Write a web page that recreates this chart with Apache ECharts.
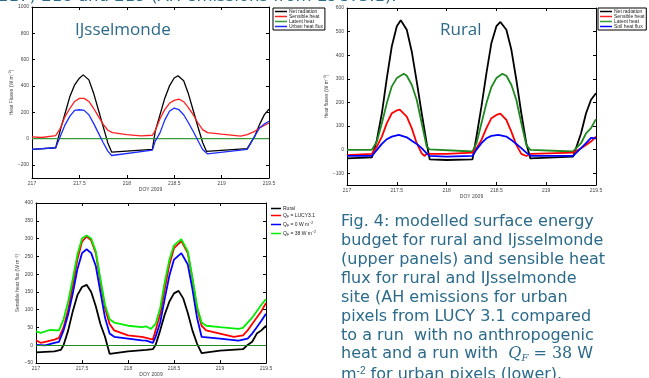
<!DOCTYPE html>
<html>
<head>
<meta charset="utf-8">
<script src="https://cdn.jsdelivr.net/npm/echarts@6/dist/echarts.min.js"></script>
<style>
html,body{margin:0;padding:0;background:#fff;overflow:hidden;}
#main{width:649px;height:378px;}
</style>
</head>
<body>
<div id="main"></div>
<script>
// x ticks (DOY 2009)
var doyTicks=[217,217.5,218,218.5,219,219.5];
var ijTicks=[-200,0,200,400,600,800,1000];
var ruTicks=[-100,0,100,200,300,400,500,600];
var shTicks=[-50,0,50,100,150,200,250,300,350,400];

// IJsselmonde energy budget [doy, W m-2]
var ijNet=[[217,-83],[217.25,-70],[217.3,68],[217.35,194],[217.4,320],[217.45,408],[217.5,459],[217.54,484],[217.6,446],[217.65,345],[217.7,219],[217.75,93],[217.8,-33],[217.84,-103],
	[218.27,-83],[218.3,55],[218.35,180],[218.4,305],[218.45,400],[218.5,460],[218.54,477],[218.6,440],[218.65,340],[218.7,215],[218.75,90],[218.8,-30],[218.84,-97],
	[219.27,-76],[219.35,18],[219.4,106],[219.45,180],[219.5,224]];
var ijSens=[[217,12],[217.1,8],[217.25,22],[217.3,80],[217.35,169],[217.4,230],[217.45,282],[217.5,305],[217.55,305],[217.6,282],[217.65,230],[217.7,169],[217.75,110],[217.8,63],[217.85,45],
	[218,30],[218.15,20],[218.27,25],[218.3,60],[218.35,150],[218.4,220],[218.45,268],[218.5,290],[218.55,300],[218.6,280],[218.65,235],[218.7,181],[218.75,120],[218.8,68],[218.85,45],
	[219,33],[219.2,18],[219.27,30],[219.35,55],[219.4,80],[219.5,118]];
var ijLat=[[217,0],[219.5,0]];
var ijUrban=[[217,-83],[217.25,-70],[217.3,20],[217.35,106],[217.4,170],[217.45,214],[217.5,219],[217.55,214],[217.6,181],[217.65,115],[217.7,43],[217.75,-30],[217.8,-96],[217.84,-129],
	[218.27,-88],[218.3,-20],[218.35,43],[218.4,140],[218.45,207],[218.5,232],[218.55,219],[218.6,181],[218.65,120],[218.7,55],[218.75,-15],[218.8,-83],[218.85,-116],
	[219.27,-83],[219.35,18],[219.4,80],[219.45,110],[219.5,131]];

// Rural energy budget
var ruNet=[[217,-37],[217.25,-33],[217.3,41],[217.35,154],[217.4,303],[217.45,438],[217.5,523],[217.54,548],[217.6,508],[217.65,416],[217.7,289],[217.75,154],[217.8,27],[217.83,-41],
	[218,-44],[218.26,-41],[218.3,55],[218.35,183],[218.4,324],[218.45,452],[218.5,523],[218.54,541],[218.6,508],[218.65,424],[218.7,296],[218.75,154],[218.8,27],[218.84,-37],
	[219.27,-30],[219.35,69],[219.4,154],[219.45,211],[219.5,239]];
var ruSens=[[217,-23],[217.25,-18],[217.3,13],[217.35,55],[217.4,112],[217.45,154],[217.5,166],[217.53,169],[217.6,140],[217.65,91],[217.7,27],[217.75,-16],[217.78,-27],[217.8,-18],
	[218,-18],[218.26,-13],[218.3,6],[218.35,41],[218.4,91],[218.45,133],[218.5,147],[218.54,152],[218.6,126],[218.65,76],[218.7,20],[218.75,-18],[218.8,-27],[218.85,-18],
	[219.27,-13],[219.35,6],[219.4,20],[219.45,34],[219.5,55]];
var ruLat=[[217,-1],[217.25,-1],[217.3,34],[217.35,112],[217.4,197],[217.45,268],[217.5,303],[217.57,321],[217.6,313],[217.65,275],[217.7,211],[217.75,112],[217.8,13],[217.83,1],
	[218.26,-8],[218.3,27],[218.35,112],[218.4,197],[218.45,265],[218.5,303],[218.56,321],[218.6,313],[218.65,275],[218.7,211],[218.75,112],[218.8,20],[218.84,-1],
	[219.27,-8],[219.35,27],[219.4,69],[219.45,91],[219.5,129]];
var ruSoil=[[217,-27],[217.25,-27],[217.3,-1],[217.35,24],[217.4,44],[217.45,55],[217.52,62],[217.6,52],[217.65,38],[217.7,24],[217.75,6],[217.8,-16],[217.83,-27],
	[218,-30],[218.26,-27],[218.3,0],[218.35,27],[218.4,48],[218.45,58],[218.52,62],[218.6,55],[218.65,41],[218.7,24],[218.75,6],[218.8,-13],[218.85,-27],
	[219.27,-27],[219.35,6],[219.4,27],[219.45,50],[219.5,48]];

// sensible heat flux, rural vs urban runs
var shRural=[[217,-20],[217.2,-17],[217.27,-13],[217.3,1],[217.35,42],[217.4,96],[217.45,141],[217.5,164],[217.55,170],[217.6,150],[217.65,110],[217.7,60],[217.75,24],[217.8,-24],
	[218,-17],[218.2,-13],[218.27,-11],[218.3,1],[218.35,42],[218.4,87],[218.45,123],[218.5,146],[218.55,153],[218.6,132],[218.65,91],[218.7,42],[218.75,5],[218.8,-22],
	[219,-15],[219.25,-11],[219.3,1],[219.35,10],[219.4,33],[219.45,42],[219.5,55]];
var shLucy=[[217,14],[217.05,7],[217.1,10],[217.2,16],[217.25,21],[217.3,51],[217.35,100],[217.4,168],[217.45,241],[217.5,291],[217.55,306],[217.6,295],[217.65,259],[217.7,178],[217.75,105],[217.8,60],[217.85,42],
	[218,28],[218.15,24],[218.2,21],[218.27,16],[218.3,42],[218.35,87],[218.4,159],[218.45,227],[218.5,273],[218.58,293],[218.65,259],[218.7,187],[218.75,105],[218.8,55],[218.85,42],
	[219,33],[219.15,24],[219.25,28],[219.3,42],[219.35,60],[219.4,78],[219.45,96],[219.5,119]];
var shZero=[[217,1],[217.1,0],[217.2,7],[217.25,10],[217.3,42],[217.35,87],[217.4,146],[217.45,214],[217.5,259],[217.55,270],[217.6,259],[217.65,223],[217.7,150],[217.75,78],[217.8,33],[217.85,24],
	[218,19],[218.15,14],[218.2,13],[218.27,7],[218.3,24],[218.35,64],[218.4,132],[218.45,196],[218.5,241],[218.58,259],[218.65,227],[218.7,159],[218.75,78],[218.8,24],
	[219,19],[219.2,13],[219.3,19],[219.35,33],[219.4,51],[219.45,69],[219.5,89]];
var sh38=[[217,39],[217.05,35],[217.15,43],[217.25,42],[217.3,73],[217.35,123],[217.4,187],[217.45,255],[217.5,300],[217.55,309],[217.6,300],[217.65,264],[217.7,187],[217.75,114],[217.8,73],[217.85,64],
	[218,55],[218.15,51],[218.2,53],[218.25,46],[218.3,60],[218.35,105],[218.4,178],[218.45,241],[218.5,281],[218.58,298],[218.65,264],[218.7,191],[218.75,110],[218.8,64],[218.85,55],
	[219,51],[219.2,46],[219.25,49],[219.3,64],[219.35,78],[219.4,96],[219.45,114],[219.5,130]];

var TEAL='#2b6a8a';
var AXFONT='Liberation Sans';

function minusFmt(v)
{
	return String(v).replace('-','\u2212');
}
/**
 * bottom/top x axes of one panel (matlab box, ticks inside)
 */
function xAxes(g,nameGap)
{
	var base={type:'value',gridIndex:g,min:217,max:219.5,interval:0.5,
		axisLine:{show:true,onZero:false,lineStyle:{color:'#000',width:1}},
		axisTick:{show:true,inside:true,length:3,lineStyle:{color:'#000'}},
		splitLine:{show:false}};
	var bottom=echarts.util.merge({position:'bottom',name:'DOY 2009',nameLocation:'middle',nameGap:nameGap,
		nameTextStyle:{fontSize:5,color:'#444',fontFamily:AXFONT},
		axisLabel:{fontSize:5,color:'#444',margin:3,fontFamily:AXFONT,customValues:doyTicks}},base,false);
	var top=echarts.util.merge({position:'top',axisLabel:{show:false}},base,false);
	return [bottom,top];
}
function yAxes(g,min,max,ticks,name,nameGap)
{
	var base={type:'value',gridIndex:g,min:min,max:max,
		axisLine:{show:true,onZero:false,lineStyle:{color:'#000',width:1}},
		axisTick:{show:true,inside:true,length:3,lineStyle:{color:'#000'},customValues:ticks},
		splitLine:{show:false}};
	var left=echarts.util.merge({position:'left',name:name,nameLocation:'middle',nameGap:nameGap,
		nameTextStyle:{fontSize:5,color:'#444',fontFamily:AXFONT,rich:{s:{fontSize:3.5,color:'#444',verticalAlign:'top',padding:[0,0,3,0]}}},
		axisLabel:{fontSize:5,color:'#444',margin:3,fontFamily:AXFONT,customValues:ticks,formatter:minusFmt}},base,false);
	var right=echarts.util.merge({position:'right',axisLabel:{show:false}},base,false);
	return [left,right];
}
function line(name,data,color,g,width)
{
	return {name:name,type:'line',data:data,xAxisIndex:2*g,yAxisIndex:2*g,showSymbol:false,symbol:'none',
		animation:false,lineStyle:{color:color,width:width},itemStyle:{color:color},z:3};
}

var myChart=echarts.init(document.getElementById('main'));
var xa=[].concat(xAxes(0,7),xAxes(1,7),xAxes(2,6));
var ya=[].concat(
	yAxes(0,-300,1000,ijTicks,'Heat Fluxes (W m{s|\u22122})',14),
	yAxes(1,-150,600,ruTicks,'Heat fluxes (W m{s|\u22122})',13),
	yAxes(2,-50,400,shTicks,'Sensible heat flux (W m{s|\u22122})',11));

var legendBase={orient:'vertical',icon:'rect',itemWidth:12,itemHeight:1.5,itemGap:0,
	textStyle:{fontSize:5,color:'#222',fontFamily:AXFONT,padding:[0,0,0,-3]},selectedMode:false};

var rural=line('Rural',shRural,'#000',2,1.8);
rural.markLine={silent:true,symbol:'none',animation:false,label:{show:false},
	lineStyle:{color:'#1f8a1f',width:1,type:'solid'},data:[{yAxis:0}]};

var option={
	backgroundColor:'#fff',
	animation:false,
	grid:[
		{left:32,top:7,width:237,height:171},
		{left:347,top:8,width:249,height:177},
		{left:36,top:203,width:230,height:166}
	],
	xAxis:xa,
	yAxis:ya,
	legend:[
		echarts.util.merge({left:273,top:8,borderColor:'#000',borderWidth:1,backgroundColor:'#fff',padding:[1,2,1,2],
			data:['Net radiation','Sensible heat','Latent heat','Urban heat flux']},legendBase,false),
		echarts.util.merge({left:598,top:8,borderColor:'#000',borderWidth:1,backgroundColor:'#fff',padding:[1,2,1,2],
			data:['Net radiation','Sensible heat','Latent heat','Soil heat flux']},legendBase,false),
		{left:266,top:201,orient:'vertical',icon:'rect',itemWidth:10,itemHeight:1.5,itemGap:2,selectedMode:false,
			data:['Rural','lucy','zero','q38'],
			formatter:function(n){
				if(n=='lucy') return 'Q{b|F} = LUCY3.1';
				if(n=='zero') return 'Q{b|F} = 0 W m{s|\u22122}';
				if(n=='q38') return 'Q{b|F} = 38 W m{s|\u22122}';
				return n;
			},
			textStyle:{fontSize:5,color:'#222',fontFamily:AXFONT,padding:[0,0,0,-3],
				rich:{b:{fontSize:3.5,color:'#222',verticalAlign:'bottom',padding:[3,0,0,0]},
					s:{fontSize:3.5,color:'#222',verticalAlign:'top',padding:[0,0,3,0]}}}}
	],
	graphic:[
		{type:'text',left:-2,top:-12,silent:true,style:{text:'217) 218 and 219 (AH emissions from LUCY3.1).',
			fill:TEAL,font:'16.5px "DejaVu Sans"'}},
		{type:'text',left:75,top:22,silent:true,style:{text:'IJsselmonde',fill:TEAL,font:'17px "Open Sans"'}},
		{type:'text',left:440,top:22,silent:true,style:{text:'Rural',fill:TEAL,font:'17px "Open Sans"'}},
		{type:'group',left:341,top:212,silent:true,children:[
			{type:'text',x:0,y:0,style:{fill:TEAL,font:'16px "DejaVu Sans"',lineHeight:19,
				text:'Fig. 4: modelled surface energy\nbudget for rural and Ijsselmonde\n(upper panels) and sensible heat\nflux for rural and IJsselmonde\nsite (AH emissions for urban\npixels from LUCY 3.1 compared\nto a run  with no anthropogenic'}},
			{type:'text',x:0,y:133,style:{fill:TEAL,font:'16px "DejaVu Sans"',
				text:'heat and a run with  {q|Q}{f|F}{m| = 38} W',
				rich:{q:{fill:TEAL,fontSize:16,fontFamily:'DejaVu Serif',fontStyle:'italic'},
					f:{fill:TEAL,fontSize:10,fontFamily:'DejaVu Serif',fontStyle:'italic',padding:[8,0,0,0]},
					m:{fill:TEAL,fontSize:16,fontFamily:'DejaVu Serif'}}}},
			{type:'text',x:0,y:154,style:{fill:TEAL,font:'16px "DejaVu Sans"',
				text:'m{s|-2} for urban pixels (lower).',
				rich:{s:{fill:TEAL,fontSize:10,padding:[0,0,8,0]}}}}
		]}
	],
	series:[
		line('Net radiation',ijNet,'#000',0,1.3),
		line('Sensible heat',ijSens,'#ff2020',0,1.3),
		line('Latent heat',ijLat,'#3a9a3a',0,1.3),
		line('Urban heat flux',ijUrban,'#1a2cff',0,1.3),
		line('Net radiation',ruNet,'#000',1,1.8),
		line('Latent heat',ruLat,'#1f8a1f',1,1.8),
		line('Sensible heat',ruSens,'#ff0000',1,1.8),
		line('Soil heat flux',ruSoil,'#0000ff',1,1.8),
		rural,
		line('lucy',shLucy,'#ff0000',2,1.8),
		line('zero',shZero,'#0000ff',2,1.8),
		line('q38',sh38,'#00ee00',2,1.8)
	]
};
myChart.setOption(option);
</script>
</body>
</html>
